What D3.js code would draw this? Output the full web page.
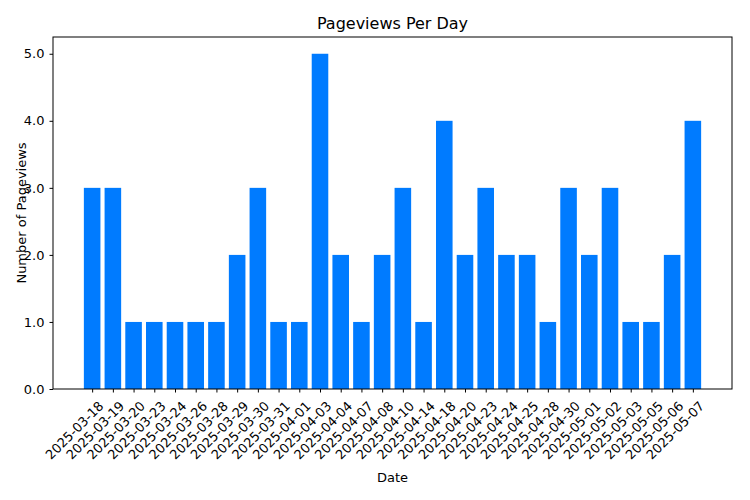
<!DOCTYPE html>
<html>
<head>
<meta charset="utf-8">
<script src="https://cdn.jsdelivr.net/npm/d3@7"></script>
<style>
  body { margin: 0; background: #fff; }
  text { font-family: "DejaVu Sans", sans-serif; fill: #000; }
</style>
</head>
<body>
<svg id="chart" width="750" height="500"></svg>
<script>
// Pageviews per day
const dates = ["2025-03-18","2025-03-19","2025-03-20","2025-03-23","2025-03-24","2025-03-26",
  "2025-03-28","2025-03-29","2025-03-30","2025-03-31","2025-04-01","2025-04-03","2025-04-04",
  "2025-04-07","2025-04-08","2025-04-10","2025-04-14","2025-04-18","2025-04-20","2025-04-23",
  "2025-04-24","2025-04-25","2025-04-28","2025-04-30","2025-05-01","2025-05-02","2025-05-03",
  "2025-05-05","2025-05-06","2025-05-07"];
const views = [3,3,1,1,1,1,1,2,3,1,1,5,2,1,2,3,1,4,2,3,2,2,1,3,2,3,1,1,2,4];
const yTicks = [0,1,2,3,4,5];

const svg = d3.select("#chart");
const mLeft = 53, mRight = 732, mTop = 37, mBottom = 389;

const n = dates.length;
const span = (n - 1) + 0.8;
const x = d3.scaleLinear().domain([-0.4 - span * 0.05, n - 1 + 0.4 + span * 0.05]).range([mLeft, mRight]);
const y = d3.scaleLinear().domain([0, 5.25]).range([mBottom, mTop]);

svg.selectAll("rect.bar")
  .data(views)
  .join("rect")
  .attr("class", "bar")
  .attr("x", (d, i) => x(i - 0.4))
  .attr("width", x(0.8) - x(0))
  .attr("y", d => y(d))
  .attr("height", d => y(0) - y(d))
  .attr("fill", "#007bff");

// axes
const yAxis = svg.append("g").attr("transform", `translate(${mLeft},0)`)
  .call(d3.axisLeft(y).tickValues(yTicks).tickSize(3.5).tickPadding(5));
yAxis.selectAll("text").attr("font-size", 13);

const xAxis = svg.append("g").attr("transform", `translate(0,${mBottom})`)
  .call(d3.axisBottom(x).tickValues(d3.range(n)).tickFormat(i => dates[i]).tickSize(3.5));
xAxis.selectAll("text")
  .attr("font-size", 13)
  .attr("text-anchor", "end")
  .attr("dy", "0.35em")
  .attr("transform", "translate(4,10) rotate(-45)");
svg.selectAll(".domain").remove();

svg.append("rect")
  .attr("x", mLeft).attr("y", mTop)
  .attr("width", mRight - mLeft).attr("height", mBottom - mTop)
  .attr("fill", "none").attr("stroke", "#000").attr("stroke-width", 1);

svg.append("text").attr("x", (mLeft + mRight) / 2).attr("y", 29)
  .attr("text-anchor", "middle").attr("font-size", 16).text("Pageviews Per Day");
svg.append("text").attr("x", (mLeft + mRight) / 2).attr("y", 482)
  .attr("text-anchor", "middle").attr("font-size", 13).text("Date");
svg.append("text").attr("transform", `translate(26,${(mTop + mBottom) / 2}) rotate(-90)`)
  .attr("text-anchor", "middle").attr("font-size", 13).text("Number of Pageviews");
</script>
</body>
</html>
